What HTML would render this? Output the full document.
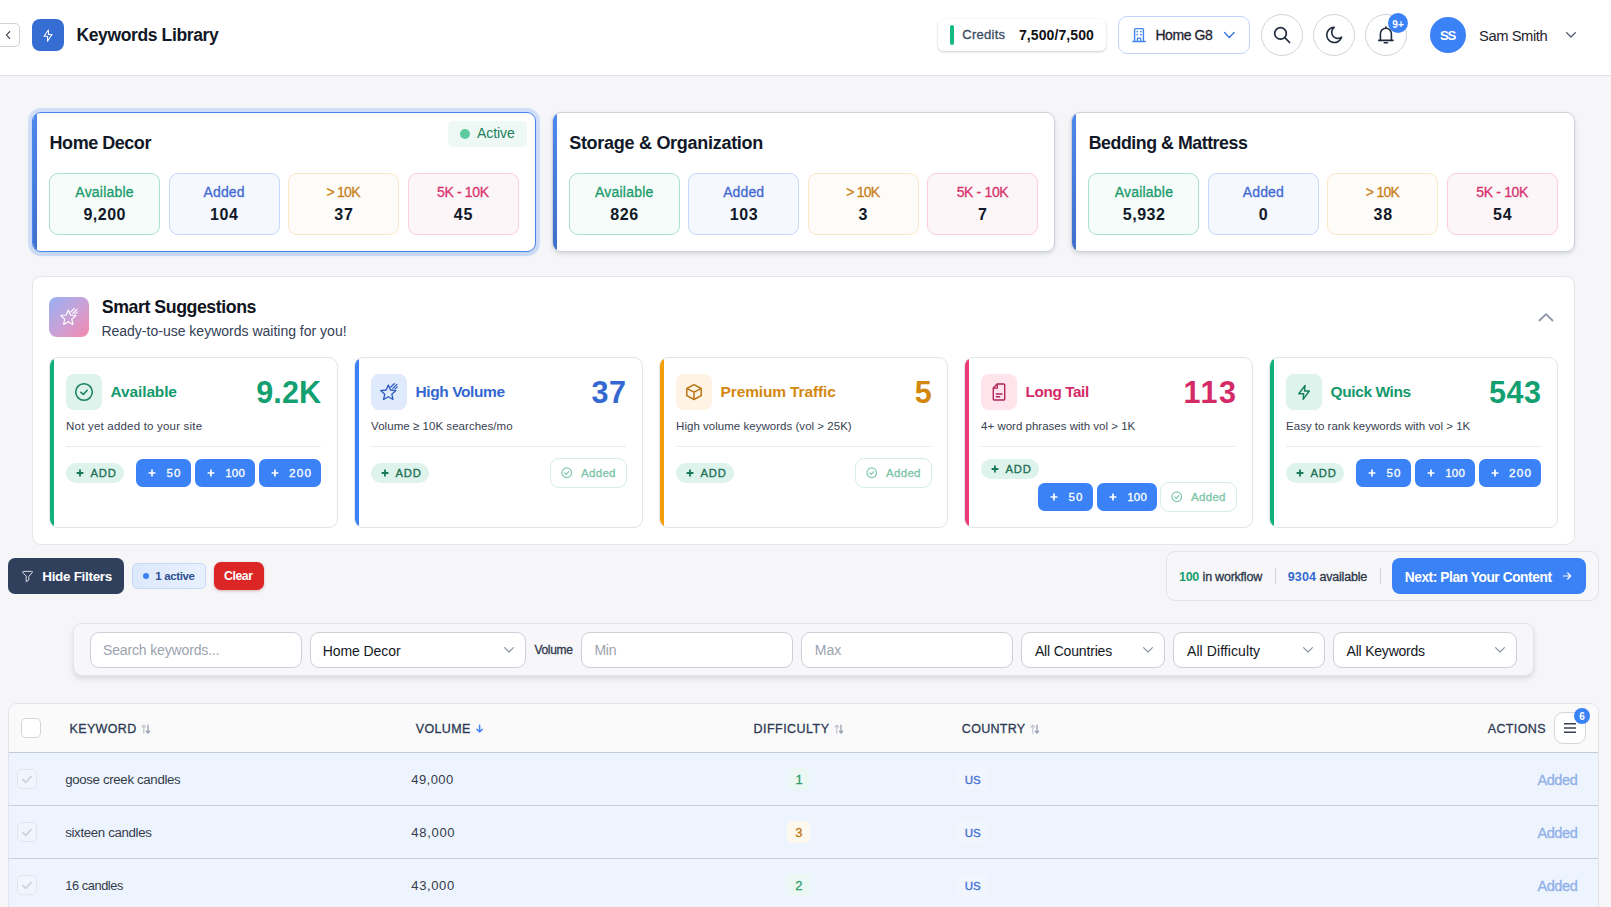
<!DOCTYPE html>
<html lang="en"><head><meta charset="utf-8"><title>Keywords Library</title>
<style>
html,body{margin:0;padding:0}
body{width:1611px;height:907px;overflow:hidden;position:relative;background:#f6f6f9;font-family:"Liberation Sans",sans-serif;}
#app{position:absolute;left:0;top:0;width:1611px;height:907px;overflow:hidden}
#app div,#app span,#app svg{position:absolute;box-sizing:border-box}
#app span{white-space:pre;}
</style></head><body><div id="app">
<div style="left:0px;top:0px;width:1611px;height:76px;background:#fff;border-bottom:1px solid #dfe1e7;"></div>
<div style="left:-6px;top:23px;width:25.5px;height:24px;background:#fff;border:1px solid #cdd1d8;border-radius:5px;"></div>
<svg style="left:3px;top:29px;" width="10" height="12" viewBox="0 0 10 12" fill="none" stroke-linecap="round" stroke-linejoin="round"><path d="M6.700 2.600 L3.400 6 L6.700 9.400" stroke="#1f2937" stroke-width="1.050"/></svg>
<div style="left:32px;top:19px;width:32px;height:32px;background:#356dd3;border-radius:8px;"></div>
<svg style="left:41px;top:27px;" width="14" height="16" viewBox="0 0 14 16" fill="none" stroke-linecap="round" stroke-linejoin="round"><path d="M7.400 3 L3 9.200 H6.600 L6.500 14.200 L11 7.500 H7.500 Z" stroke="#fff" stroke-width="1.100"/></svg>
<span style="left:76.40px;top:25px;font-size:17.5px;line-height:20px;color:#111827;letter-spacing:-0.368px;font-weight:700;">Keywords Library</span>
<div style="left:938px;top:19px;width:168px;height:32px;background:#fff;border-radius:6px;box-shadow:0 1px 3px rgba(16,24,40,.14),0 1px 2px rgba(16,24,40,.08);"></div>
<div style="left:950px;top:25px;width:4px;height:19.5px;background:#12b981;border-radius:2px;"></div>
<span style="left:962.30px;top:27px;font-size:13px;line-height:15px;color:#3b4a63;letter-spacing:0.253px;-webkit-text-stroke:0.3px currentColor;">Credits</span>
<span style="left:1019.00px;top:27px;font-size:14px;line-height:16px;color:#0f1115;letter-spacing:0.084px;font-weight:700;">7,500/7,500</span>
<div style="left:1118px;top:16px;width:132px;height:38px;background:#fff;border:1px solid #bfd4f8;border-radius:9px;"></div>
<svg style="left:1132px;top:27px;" width="14" height="16" viewBox="0 0 14 16" fill="none" stroke-linecap="round" stroke-linejoin="round"><path d="M2.6 14.3 V2.6 a1 1 0 0 1 1-1 h6.8 a1 1 0 0 1 1 1 V14.3" stroke="#4585f0" stroke-width="1.450"/><path d="M0.8 14.4 H13.2" stroke="#4585f0" stroke-width="1.450"/><path d="M5.4 14.2 V11.2 h3.2 V14.2" stroke="#4585f0" stroke-width="1.300"/><path d="M5.2 4.6h.1M8.8 4.6h.1M5.2 7.6h.1M8.8 7.6h.1" stroke="#4585f0" stroke-width="1.700"/></svg>
<span style="left:1155.40px;top:27px;font-size:14px;line-height:16px;color:#1f2430;letter-spacing:-0.418px;-webkit-text-stroke:0.3px currentColor;">Home G8</span>
<svg style="left:1223px;top:30px;" width="14" height="10" viewBox="0 0 14 10" fill="none" stroke-linecap="round" stroke-linejoin="round"><path d="M1.500 2.500 L6.300 7.500 L11.100 2.500" stroke="#3b76e6" stroke-width="1.400"/></svg>
<div style="left:1261px;top:14px;width:42px;height:42px;background:#fff;border:1px solid #cfd4dc;border-radius:50%;"></div>
<div style="left:1313px;top:14px;width:42px;height:42px;background:#fff;border:1px solid #cfd4dc;border-radius:50%;"></div>
<div style="left:1365px;top:14px;width:42px;height:42px;background:#fff;border:1px solid #cfd4dc;border-radius:50%;"></div>
<svg style="left:1273px;top:26px;" width="18" height="18" viewBox="0 0 18 18" fill="none" stroke-linecap="round" stroke-linejoin="round"><circle cx="7.500" cy="7.400" r="5.800" stroke="#1f2a3d" stroke-width="1.700"/><path d="M11.800 11.700 L16.600 16.500" stroke="#1f2a3d" stroke-width="1.700"/></svg>
<svg style="left:1324px;top:25px;" width="20" height="20" viewBox="0 0 20 20" fill="none" stroke-linecap="round" stroke-linejoin="round"><path d="M10.200 2.300 A7.600 7.600 0 1 0 17.600 12.200 A6.100 6.100 0 0 1 10.200 2.300 Z" stroke="#1f2a3d" stroke-width="1.600"/></svg>
<svg style="left:1377px;top:25px;" width="18" height="20" viewBox="0 0 18 20" fill="none" stroke-linecap="round" stroke-linejoin="round"><path d="M3.400 15.400 V8.700 a5.500 5.500 0 0 1 11 0 V15.400" stroke="#1f2a3d" stroke-width="1.600"/><path d="M1.800 15.400 H16 M8.900 3 V2 M7.300 17.700 H10.500" stroke="#1f2a3d" stroke-width="1.600"/></svg>
<div style="left:1388px;top:13px;width:20px;height:20px;background:#3b82f6;border-radius:50%;"></div>
<span style="left:1392.25px;top:19px;font-size:10px;line-height:11px;color:#fff;letter-spacing:0.100px;font-weight:700;">9+</span>
<div style="left:1430px;top:17px;width:36px;height:36px;background:#3b82f6;border-radius:50%;"></div>
<span style="left:1439.95px;top:28px;font-size:13.25px;line-height:15px;color:#fff;letter-spacing:-1.375px;font-weight:700;">SS</span>
<span style="left:1479.00px;top:28px;font-size:14.75px;line-height:16px;color:#1f2430;letter-spacing:-0.441px;">Sam Smith</span>
<svg style="left:1565px;top:31px;" width="12" height="8" viewBox="0 0 12 8" fill="none" stroke-linecap="round" stroke-linejoin="round"><path d="M1.6 1.6 L6 6 L10.4 1.6" stroke="#4b5568" stroke-width="1.3"/></svg>
<div style="left:32px;top:112px;width:503.67px;height:140px;background:#fff;border:1.5px solid #4a86ee;border-radius:9px;box-shadow:0 0 0 4px rgba(59,130,246,.2),0 3px 5px rgba(30,41,59,.07);overflow:hidden;"><div style="left:0;top:0;width:4px;height:100%;background:linear-gradient(#4d88ec,#3e6fca)"></div></div>
<span style="left:49.60px;top:133px;font-size:18px;line-height:20px;color:#111827;letter-spacing:-0.471px;font-weight:700;">Home Decor</span>
<div style="left:49px;top:173px;width:111px;height:62px;background:#f6fcf9;border:1px solid #a9e3cc;border-radius:9px;"></div>
<span style="left:75.35px;top:184px;font-size:14px;line-height:16px;color:#1a9b6c;letter-spacing:0.218px;-webkit-text-stroke:0.3px currentColor;">Available</span>
<span style="left:83.48px;top:206px;font-size:16px;line-height:17px;color:#111827;letter-spacing:0.502px;font-weight:700;">9,200</span>
<div style="left:168.5px;top:173px;width:111px;height:62px;background:#f5f8fe;border:1px solid #c6d8f9;border-radius:9px;"></div>
<span style="left:203.50px;top:184px;font-size:14px;line-height:16px;color:#4169d1;letter-spacing:0.128px;-webkit-text-stroke:0.3px currentColor;">Added</span>
<span style="left:209.98px;top:206px;font-size:16px;line-height:17px;color:#111827;letter-spacing:0.671px;font-weight:700;">104</span>
<div style="left:288px;top:173px;width:111px;height:62px;background:#fefcf9;border:1px solid #fce6c8;border-radius:9px;"></div>
<span style="left:326.50px;top:184px;font-size:14px;line-height:16px;color:#c8811a;letter-spacing:-0.743px;-webkit-text-stroke:0.3px currentColor;">&gt; 10K</span>
<span style="left:334.16px;top:206px;font-size:16px;line-height:17px;color:#111827;letter-spacing:0.895px;font-weight:700;">37</span>
<div style="left:407.5px;top:173px;width:111px;height:62px;background:#fcf6f9;border:1px solid #fbcddd;border-radius:9px;"></div>
<span style="left:437.00px;top:184px;font-size:14px;line-height:16px;color:#d6336c;letter-spacing:-0.353px;-webkit-text-stroke:0.3px currentColor;">5K - 10K</span>
<span style="left:453.66px;top:206px;font-size:16px;line-height:17px;color:#111827;letter-spacing:0.895px;font-weight:700;">45</span>
<div style="left:551.67px;top:112px;width:503.67px;height:140px;background:#fff;border:1px solid #cdd1d9;border-radius:9px;box-shadow:0 2px 4px rgba(30,41,59,.15);overflow:hidden;"><div style="left:-1px;top:-1px;width:5px;height:142px;background:linear-gradient(#4d88ec,#3e6fca)"></div></div>
<span style="left:569.20px;top:133px;font-size:18px;line-height:20px;color:#111827;letter-spacing:-0.282px;font-weight:700;">Storage &amp; Organization</span>
<div style="left:568.67px;top:173px;width:111px;height:62px;background:#f6fcf9;border:1px solid #a9e3cc;border-radius:9px;"></div>
<span style="left:595.02px;top:184px;font-size:14px;line-height:16px;color:#1a9b6c;letter-spacing:0.217px;-webkit-text-stroke:0.3px currentColor;">Available</span>
<span style="left:610.15px;top:206px;font-size:16px;line-height:17px;color:#111827;letter-spacing:0.671px;font-weight:700;">826</span>
<div style="left:688.17px;top:173px;width:111px;height:62px;background:#f5f8fe;border:1px solid #c6d8f9;border-radius:9px;"></div>
<span style="left:723.17px;top:184px;font-size:14px;line-height:16px;color:#4169d1;letter-spacing:0.128px;-webkit-text-stroke:0.3px currentColor;">Added</span>
<span style="left:729.65px;top:206px;font-size:16px;line-height:17px;color:#111827;letter-spacing:0.671px;font-weight:700;">103</span>
<div style="left:807.67px;top:173px;width:111px;height:62px;background:#fefcf9;border:1px solid #fce6c8;border-radius:9px;"></div>
<span style="left:846.17px;top:184px;font-size:14px;line-height:16px;color:#c8811a;letter-spacing:-0.743px;-webkit-text-stroke:0.3px currentColor;">&gt; 10K</span>
<span style="left:858.50px;top:206px;font-size:16px;line-height:17px;color:#111827;letter-spacing:0.000px;font-weight:700;">3</span>
<div style="left:927.17px;top:173px;width:111px;height:62px;background:#fcf6f9;border:1px solid #fbcddd;border-radius:9px;"></div>
<span style="left:956.67px;top:184px;font-size:14px;line-height:16px;color:#d6336c;letter-spacing:-0.353px;-webkit-text-stroke:0.3px currentColor;">5K - 10K</span>
<span style="left:978.00px;top:206px;font-size:16px;line-height:17px;color:#111827;letter-spacing:0.000px;font-weight:700;">7</span>
<div style="left:1071.33px;top:112px;width:503.67px;height:140px;background:#fff;border:1px solid #cdd1d9;border-radius:9px;box-shadow:0 2px 4px rgba(30,41,59,.15);overflow:hidden;"><div style="left:-1px;top:-1px;width:5px;height:142px;background:linear-gradient(#4d88ec,#3e6fca)"></div></div>
<span style="left:1088.70px;top:133px;font-size:17.75px;line-height:20px;color:#111827;letter-spacing:-0.445px;font-weight:700;">Bedding &amp; Mattress</span>
<div style="left:1088.33px;top:173px;width:111px;height:62px;background:#f6fcf9;border:1px solid #a9e3cc;border-radius:9px;"></div>
<span style="left:1114.68px;top:184px;font-size:14px;line-height:16px;color:#1a9b6c;letter-spacing:0.218px;-webkit-text-stroke:0.3px currentColor;">Available</span>
<span style="left:1122.81px;top:206px;font-size:16px;line-height:17px;color:#111827;letter-spacing:0.502px;font-weight:700;">5,932</span>
<div style="left:1207.83px;top:173px;width:111px;height:62px;background:#f5f8fe;border:1px solid #c6d8f9;border-radius:9px;"></div>
<span style="left:1242.83px;top:184px;font-size:14px;line-height:16px;color:#4169d1;letter-spacing:0.128px;-webkit-text-stroke:0.3px currentColor;">Added</span>
<span style="left:1258.66px;top:206px;font-size:16px;line-height:17px;color:#111827;letter-spacing:0.000px;font-weight:700;">0</span>
<div style="left:1327.33px;top:173px;width:111px;height:62px;background:#fefcf9;border:1px solid #fce6c8;border-radius:9px;"></div>
<span style="left:1365.83px;top:184px;font-size:14px;line-height:16px;color:#c8811a;letter-spacing:-0.743px;-webkit-text-stroke:0.3px currentColor;">&gt; 10K</span>
<span style="left:1373.49px;top:206px;font-size:16px;line-height:17px;color:#111827;letter-spacing:0.895px;font-weight:700;">38</span>
<div style="left:1446.83px;top:173px;width:111px;height:62px;background:#fcf6f9;border:1px solid #fbcddd;border-radius:9px;"></div>
<span style="left:1476.33px;top:184px;font-size:14px;line-height:16px;color:#d6336c;letter-spacing:-0.353px;-webkit-text-stroke:0.3px currentColor;">5K - 10K</span>
<span style="left:1492.99px;top:206px;font-size:16px;line-height:17px;color:#111827;letter-spacing:0.895px;font-weight:700;">54</span>
<div style="left:448px;top:121px;width:79px;height:26px;background:#eef8f4;border-radius:5px;"></div>
<div style="left:460px;top:129px;width:10px;height:10px;background:#5ccba0;border-radius:50%;"></div>
<span style="left:477.00px;top:125px;font-size:14px;line-height:16px;color:#1b7f5c;letter-spacing:-0.064px;">Active</span>
<div style="left:32px;top:276px;width:1543px;height:269px;background:#fff;border:1px solid #e4e6eb;border-radius:9px;"></div>
<div style="left:49px;top:297px;width:40px;height:40px;background:linear-gradient(135deg,#98aff5 0%,#c8a2d8 50%,#f587ab 100%);border-radius:8px;"></div>
<svg style="left:60px;top:305.5px;" width="19" height="20" viewBox="0 0 19 20" fill="none" stroke-linecap="round" stroke-linejoin="round"><path d="M8.300 4 L10.470 9.010 L15.910 9.530 L11.820 13.140 L13 18.470 L8.300 15.700 L3.600 18.470 L4.780 13.140 L0.690 9.530 L6.130 9.010 Z" stroke="#fff" stroke-width="1.15"/><path d="M10.800 6 L14.260 2.670 M12.900 7.400 L16.940 3.370 M15.250 7.840 L17.240 5.850" stroke="#fff" stroke-width="1.15"/></svg>
<span style="left:101.80px;top:297px;font-size:17.75px;line-height:20px;color:#0f1420;letter-spacing:-0.447px;font-weight:700;">Smart Suggestions</span>
<span style="left:101.40px;top:323px;font-size:14px;line-height:16px;color:#334155;letter-spacing:0.002px;">Ready-to-use keywords waiting for you!</span>
<svg style="left:1538px;top:312px;" width="16" height="10" viewBox="0 0 16 10" fill="none" stroke-linecap="round" stroke-linejoin="round"><path d="M1.500 8.500 L8 2.100 L14.500 8.500" stroke="#8f98a6" stroke-width="1.800"/></svg>
<div style="left:49px;top:357px;width:289px;height:171px;background:#fff;border:1px solid #e1e4ea;border-radius:9px;overflow:hidden;"><div style="left:-1px;top:-1px;width:4.500px;height:172px;background:#12b07a"></div></div>
<div style="left:66px;top:374px;width:36px;height:36px;background:#ddf3eb;border-radius:8px;"></div>
<svg style="left:74px;top:382px;" width="20" height="20" viewBox="0 0 20 20" fill="none" stroke-linecap="round" stroke-linejoin="round"><circle cx="10" cy="10" r="8.3" stroke="#14805a" stroke-width="1.5"/><path d="M6.8 10.2 L9.3 12.5 L13.2 8.300" stroke="#14805a" stroke-width="1.5"/></svg>
<span style="left:110.60px;top:383px;font-size:15.5px;line-height:17px;color:#13996b;letter-spacing:-0.136px;font-weight:700;">Available</span>
<span style="left:256.20px;top:375px;font-size:30.5px;line-height:34px;color:#12a071;letter-spacing:0.128px;font-weight:700;">9.2K</span>
<span style="left:66.10px;top:420px;font-size:11.5px;line-height:12px;color:#374151;letter-spacing:0.198px;">Not yet added to your site</span>
<div style="left:66px;top:446px;width:255px;height:1px;background:#e9ebef;"></div>
<div style="left:354px;top:357px;width:289px;height:171px;background:#fff;border:1px solid #e1e4ea;border-radius:9px;overflow:hidden;"><div style="left:-1px;top:-1px;width:4.500px;height:172px;background:#3b82f6"></div></div>
<div style="left:371px;top:374px;width:36px;height:36px;background:#e0eafd;border-radius:8px;"></div>
<svg style="left:380.3px;top:380.6px;" width="19" height="20" viewBox="0 0 19 20" fill="none" stroke-linecap="round" stroke-linejoin="round"><path d="M8.300 4 L10.470 9.010 L15.910 9.530 L11.820 13.140 L13 18.470 L8.300 15.700 L3.600 18.470 L4.780 13.140 L0.690 9.530 L6.130 9.010 Z" stroke="#2b5bbf" stroke-width="1.3"/><path d="M10.800 6 L14.260 2.670 M12.900 7.400 L16.940 3.370 M15.250 7.840 L17.240 5.850" stroke="#2b5bbf" stroke-width="1.3"/></svg>
<span style="left:415.60px;top:383px;font-size:15.5px;line-height:17px;color:#3468d1;letter-spacing:-0.417px;font-weight:700;">High Volume</span>
<span style="left:591.40px;top:375px;font-size:30.5px;line-height:34px;color:#3468d1;letter-spacing:0.684px;font-weight:700;">37</span>
<span style="left:371.10px;top:420px;font-size:11.5px;line-height:12px;color:#374151;letter-spacing:0.041px;">Volume ≥ 10K searches/mo</span>
<div style="left:371px;top:446px;width:255px;height:1px;background:#e9ebef;"></div>
<div style="left:659px;top:357px;width:289px;height:171px;background:#fff;border:1px solid #e1e4ea;border-radius:9px;overflow:hidden;"><div style="left:-1px;top:-1px;width:4.500px;height:172px;background:#f59e0b"></div></div>
<div style="left:676px;top:374px;width:36px;height:36px;background:#fef3e4;border-radius:8px;"></div>
<svg style="left:684px;top:382px;" width="20" height="20" viewBox="0 0 20 20" fill="none" stroke-linecap="round" stroke-linejoin="round"><path d="M10 2.700 L17.200 6.500 V13.700 L10 17.500 L2.800 13.700 V6.500 Z" stroke="#b87514" stroke-width="1.500"/><path d="M3.100 6.700 L10 10.200 L16.900 6.700 M10 10.200 V17.200" stroke="#b87514" stroke-width="1.500"/></svg>
<span style="left:720.60px;top:383px;font-size:15.5px;line-height:17px;color:#d4870f;letter-spacing:-0.139px;font-weight:700;">Premium Traffic</span>
<span style="left:914.70px;top:375px;font-size:30.5px;line-height:34px;color:#d4870f;letter-spacing:0.000px;font-weight:700;">5</span>
<span style="left:676.10px;top:420px;font-size:11.5px;line-height:12px;color:#374151;letter-spacing:0.025px;">High volume keywords (vol &gt; 25K)</span>
<div style="left:676px;top:446px;width:255px;height:1px;background:#e9ebef;"></div>
<div style="left:964px;top:357px;width:289px;height:171px;background:#fff;border:1px solid #e1e4ea;border-radius:9px;overflow:hidden;"><div style="left:-1px;top:-1px;width:4.500px;height:172px;background:#ec3a78"></div></div>
<div style="left:981px;top:374px;width:36px;height:36px;background:#ffe4eb;border-radius:8px;"></div>
<svg style="left:991px;top:382px;" width="16" height="20" viewBox="0 0 16 20" fill="none" stroke-linecap="round" stroke-linejoin="round"><path d="M6.2 2 H12.600 a1.100 1.100 0 0 1 1.100 1.100 V16.900 a1.100 1.100 0 0 1 -1.100 1.100 H3.400 a1.100 1.100 0 0 1 -1.100 -1.100 V6 Z" stroke="#b0245a" stroke-width="1.400"/><path d="M6.400 2.300 V6.100 H2.500" stroke="#b0245a" stroke-width="1.300"/><path d="M5.300 12 H11 M5.300 14.700 H8.600" stroke="#b0245a" stroke-width="1.400"/></svg>
<span style="left:1025.60px;top:383px;font-size:15.25px;line-height:17px;color:#d42a67;letter-spacing:-0.380px;font-weight:700;">Long Tail</span>
<span style="left:1183.50px;top:375px;font-size:30.5px;line-height:34px;color:#d42a67;letter-spacing:1.652px;font-weight:700;">113</span>
<span style="left:981.10px;top:420px;font-size:11.5px;line-height:12px;color:#374151;letter-spacing:0.002px;">4+ word phrases with vol &gt; 1K</span>
<div style="left:981px;top:446px;width:255px;height:1px;background:#e9ebef;"></div>
<div style="left:1269px;top:357px;width:289px;height:171px;background:#fff;border:1px solid #e1e4ea;border-radius:9px;overflow:hidden;"><div style="left:-1px;top:-1px;width:4.500px;height:172px;background:#12b07a"></div></div>
<div style="left:1286px;top:374px;width:36px;height:36px;background:#ddf3eb;border-radius:8px;"></div>
<svg style="left:1296px;top:382.2px;" width="16" height="20" viewBox="0 0 16 20" fill="none" stroke-linecap="round" stroke-linejoin="round"><path d="M9.100 3.500 L2.800 11.700 H7.700 L7.100 17.400 L13.300 9 H8.500 Z" stroke="#14805a" stroke-width="1.400"/></svg>
<span style="left:1330.60px;top:383px;font-size:15.5px;line-height:17px;color:#13996b;letter-spacing:-0.408px;font-weight:700;">Quick Wins</span>
<span style="left:1489.10px;top:375px;font-size:30.5px;line-height:34px;color:#12a071;letter-spacing:0.513px;font-weight:700;">543</span>
<span style="left:1286.10px;top:420px;font-size:11.5px;line-height:12px;color:#374151;letter-spacing:-0.009px;">Easy to rank keywords with vol &gt; 1K</span>
<div style="left:1286px;top:446px;width:255px;height:1px;background:#e9ebef;"></div>
<div style="left:66px;top:463px;width:58px;height:20px;background:#ddf3eb;border-radius:10px;"></div>
<svg style="left:76px;top:469.1px;" width="8" height="8" viewBox="0 0 8 8" fill="none" stroke-linecap="round" stroke-linejoin="round"><path d="M4.0 0.600 V7.4 M0.600 4.0 H7.4" stroke="#17785a" stroke-width="1.8" stroke-linecap="butt"/></svg>
<span style="left:90.60px;top:467px;font-size:11.25px;line-height:12px;color:#1b6e52;letter-spacing:0.726px;-webkit-text-stroke:0.3px currentColor;">ADD</span>
<div style="left:136px;top:459px;width:55px;height:27.6px;background:#3b82f6;border-radius:6.500px;"></div>
<svg style="left:148.2px;top:468.9px;" width="8" height="8" viewBox="0 0 8 8" fill="none" stroke-linecap="round" stroke-linejoin="round"><path d="M4.0 0.600 V7.4 M0.600 4.0 H7.4" stroke="#fff" stroke-width="1.7" stroke-linecap="butt"/></svg>
<span style="left:166.60px;top:467px;font-size:11.5px;line-height:12px;color:#fff;letter-spacing:1.112px;-webkit-text-stroke:0.3px currentColor;">50</span>
<div style="left:195px;top:459px;width:60px;height:27.6px;background:#3b82f6;border-radius:6.500px;"></div>
<svg style="left:206.9px;top:468.9px;" width="8" height="8" viewBox="0 0 8 8" fill="none" stroke-linecap="round" stroke-linejoin="round"><path d="M4.0 0.600 V7.4 M0.600 4.0 H7.4" stroke="#fff" stroke-width="1.7" stroke-linecap="butt"/></svg>
<span style="left:225.30px;top:467px;font-size:11.5px;line-height:12px;color:#fff;letter-spacing:0.159px;-webkit-text-stroke:0.3px currentColor;">100</span>
<div style="left:259px;top:459px;width:62px;height:27.6px;background:#3b82f6;border-radius:6.500px;"></div>
<svg style="left:270.9px;top:468.9px;" width="8" height="8" viewBox="0 0 8 8" fill="none" stroke-linecap="round" stroke-linejoin="round"><path d="M4.0 0.600 V7.4 M0.600 4.0 H7.4" stroke="#fff" stroke-width="1.7" stroke-linecap="butt"/></svg>
<span style="left:289.10px;top:466px;font-size:11.75px;line-height:13px;color:#fff;letter-spacing:1.150px;-webkit-text-stroke:0.3px currentColor;">200</span>
<div style="left:1286px;top:463px;width:58px;height:20px;background:#ddf3eb;border-radius:10px;"></div>
<svg style="left:1296px;top:469.1px;" width="8" height="8" viewBox="0 0 8 8" fill="none" stroke-linecap="round" stroke-linejoin="round"><path d="M4.0 0.600 V7.4 M0.600 4.0 H7.4" stroke="#17785a" stroke-width="1.8" stroke-linecap="butt"/></svg>
<span style="left:1310.60px;top:467px;font-size:11.25px;line-height:12px;color:#1b6e52;letter-spacing:0.726px;-webkit-text-stroke:0.3px currentColor;">ADD</span>
<div style="left:1356px;top:459px;width:55px;height:27.6px;background:#3b82f6;border-radius:6.500px;"></div>
<svg style="left:1368.2px;top:468.9px;" width="8" height="8" viewBox="0 0 8 8" fill="none" stroke-linecap="round" stroke-linejoin="round"><path d="M4.0 0.600 V7.4 M0.600 4.0 H7.4" stroke="#fff" stroke-width="1.7" stroke-linecap="butt"/></svg>
<span style="left:1386.60px;top:467px;font-size:11.5px;line-height:12px;color:#fff;letter-spacing:1.112px;-webkit-text-stroke:0.3px currentColor;">50</span>
<div style="left:1415px;top:459px;width:60px;height:27.6px;background:#3b82f6;border-radius:6.500px;"></div>
<svg style="left:1426.9px;top:468.9px;" width="8" height="8" viewBox="0 0 8 8" fill="none" stroke-linecap="round" stroke-linejoin="round"><path d="M4.0 0.600 V7.4 M0.600 4.0 H7.4" stroke="#fff" stroke-width="1.7" stroke-linecap="butt"/></svg>
<span style="left:1445.30px;top:467px;font-size:11.5px;line-height:12px;color:#fff;letter-spacing:0.159px;-webkit-text-stroke:0.3px currentColor;">100</span>
<div style="left:1479px;top:459px;width:62px;height:27.6px;background:#3b82f6;border-radius:6.500px;"></div>
<svg style="left:1490.9px;top:468.9px;" width="8" height="8" viewBox="0 0 8 8" fill="none" stroke-linecap="round" stroke-linejoin="round"><path d="M4.0 0.600 V7.4 M0.600 4.0 H7.4" stroke="#fff" stroke-width="1.7" stroke-linecap="butt"/></svg>
<span style="left:1509.10px;top:466px;font-size:11.75px;line-height:13px;color:#fff;letter-spacing:1.151px;-webkit-text-stroke:0.3px currentColor;">200</span>
<div style="left:371px;top:463px;width:58px;height:20px;background:#ddf3eb;border-radius:10px;"></div>
<svg style="left:381px;top:469.1px;" width="8" height="8" viewBox="0 0 8 8" fill="none" stroke-linecap="round" stroke-linejoin="round"><path d="M4.0 0.600 V7.4 M0.600 4.0 H7.4" stroke="#17785a" stroke-width="1.8" stroke-linecap="butt"/></svg>
<span style="left:395.60px;top:467px;font-size:11.25px;line-height:12px;color:#1b6e52;letter-spacing:0.726px;-webkit-text-stroke:0.3px currentColor;">ADD</span>
<div style="left:550px;top:458px;width:77px;height:30px;background:#fff;border:1px solid #d5efe4;border-radius:9px;"></div>
<svg style="left:560.8px;top:467px;" width="11.5" height="11.5" viewBox="0 0 12 12" fill="none" stroke-linecap="round" stroke-linejoin="round"><circle cx="6" cy="6" r="5" stroke="#7fc8ab" stroke-width="1.250"/><path d="M3.900 6.100 L5.500 7.600 L8.100 4.800" stroke="#7fc8ab" stroke-width="1.250"/></svg>
<span style="left:581.00px;top:467px;font-size:11.5px;line-height:12px;color:#7cc5a8;letter-spacing:0.311px;-webkit-text-stroke:0.3px currentColor;">Added</span>
<div style="left:676px;top:463px;width:58px;height:20px;background:#ddf3eb;border-radius:10px;"></div>
<svg style="left:686px;top:469.1px;" width="8" height="8" viewBox="0 0 8 8" fill="none" stroke-linecap="round" stroke-linejoin="round"><path d="M4.0 0.600 V7.4 M0.600 4.0 H7.4" stroke="#17785a" stroke-width="1.8" stroke-linecap="butt"/></svg>
<span style="left:700.60px;top:467px;font-size:11.25px;line-height:12px;color:#1b6e52;letter-spacing:0.726px;-webkit-text-stroke:0.3px currentColor;">ADD</span>
<div style="left:855px;top:458px;width:77px;height:30px;background:#fff;border:1px solid #d5efe4;border-radius:9px;"></div>
<svg style="left:865.8px;top:467px;" width="11.5" height="11.5" viewBox="0 0 12 12" fill="none" stroke-linecap="round" stroke-linejoin="round"><circle cx="6" cy="6" r="5" stroke="#7fc8ab" stroke-width="1.250"/><path d="M3.900 6.100 L5.500 7.600 L8.100 4.800" stroke="#7fc8ab" stroke-width="1.250"/></svg>
<span style="left:886.00px;top:467px;font-size:11.5px;line-height:12px;color:#7cc5a8;letter-spacing:0.311px;-webkit-text-stroke:0.3px currentColor;">Added</span>
<div style="left:981px;top:459px;width:58px;height:20px;background:#ddf3eb;border-radius:10px;"></div>
<svg style="left:991px;top:465.1px;" width="8" height="8" viewBox="0 0 8 8" fill="none" stroke-linecap="round" stroke-linejoin="round"><path d="M4.0 0.600 V7.4 M0.600 4.0 H7.4" stroke="#17785a" stroke-width="1.8" stroke-linecap="butt"/></svg>
<span style="left:1005.60px;top:463px;font-size:11.25px;line-height:12px;color:#1b6e52;letter-spacing:0.726px;-webkit-text-stroke:0.3px currentColor;">ADD</span>
<div style="left:1038px;top:483px;width:55px;height:27.6px;background:#3b82f6;border-radius:6.500px;"></div>
<svg style="left:1050.2px;top:492.9px;" width="8" height="8" viewBox="0 0 8 8" fill="none" stroke-linecap="round" stroke-linejoin="round"><path d="M4.0 0.600 V7.4 M0.600 4.0 H7.4" stroke="#fff" stroke-width="1.7" stroke-linecap="butt"/></svg>
<span style="left:1068.60px;top:491px;font-size:11.5px;line-height:12px;color:#fff;letter-spacing:1.112px;-webkit-text-stroke:0.3px currentColor;">50</span>
<div style="left:1097px;top:483px;width:60px;height:27.6px;background:#3b82f6;border-radius:6.500px;"></div>
<svg style="left:1108.9px;top:492.9px;" width="8" height="8" viewBox="0 0 8 8" fill="none" stroke-linecap="round" stroke-linejoin="round"><path d="M4.0 0.600 V7.4 M0.600 4.0 H7.4" stroke="#fff" stroke-width="1.7" stroke-linecap="butt"/></svg>
<span style="left:1127.30px;top:491px;font-size:11.5px;line-height:12px;color:#fff;letter-spacing:0.159px;-webkit-text-stroke:0.3px currentColor;">100</span>
<div style="left:1160px;top:482px;width:77px;height:30px;background:#fff;border:1px solid #d5efe4;border-radius:9px;"></div>
<svg style="left:1170.8px;top:491px;" width="11.5" height="11.5" viewBox="0 0 12 12" fill="none" stroke-linecap="round" stroke-linejoin="round"><circle cx="6" cy="6" r="5" stroke="#7fc8ab" stroke-width="1.250"/><path d="M3.900 6.100 L5.500 7.600 L8.100 4.800" stroke="#7fc8ab" stroke-width="1.250"/></svg>
<span style="left:1191.00px;top:491px;font-size:11.5px;line-height:12px;color:#7cc5a8;letter-spacing:0.311px;-webkit-text-stroke:0.3px currentColor;">Added</span>
<div style="left:8px;top:558px;width:116px;height:36px;background:#2f3f5c;border-radius:7px;"></div>
<svg style="left:20.5px;top:569.5px;" width="13" height="13" viewBox="0 0 13 13" fill="none" stroke-linecap="round" stroke-linejoin="round"><path d="M1.900 2.600 Q0.900 1.400 2.500 1.400 H10.500 Q12.100 1.400 11.100 2.600 L7.800 6.500 V10 L5.200 11.800 V6.500 Z" stroke="#d9dee7" stroke-width="1"/></svg>
<span style="left:42.20px;top:569px;font-size:13.5px;line-height:15px;color:#fff;letter-spacing:-0.311px;font-weight:700;">Hide Filters</span>
<div style="left:132px;top:563px;width:74px;height:26px;background:linear-gradient(90deg,#dce8fc,#e9f1fe);border:1px solid #c7dafb;border-radius:5px;"></div>
<div style="left:143px;top:573px;width:6px;height:6px;background:#3b82f6;border-radius:50%;"></div>
<span style="left:155.30px;top:570px;font-size:11.5px;line-height:12px;color:#2f4f8f;letter-spacing:-0.371px;font-weight:700;">1 active</span>
<div style="left:214px;top:562px;width:50px;height:28px;background:#dc2626;border-radius:7px;box-shadow:0 1px 3px rgba(120,20,20,.3);"></div>
<span style="left:224.00px;top:569px;font-size:12.25px;line-height:14px;color:#fff;letter-spacing:-0.409px;font-weight:700;">Clear</span>
<div style="left:1166px;top:551px;width:433px;height:50px;background:#f7f7fa;border:1px solid #e2e4ea;border-radius:9px;"></div>
<span style="left:1179.00px;top:570px;font-size:12.5px;line-height:14px;color:#16a06e;letter-spacing:-0.325px;font-weight:700;">100</span>
<span style="left:1202.60px;top:570px;font-size:12.5px;line-height:14px;color:#2a3547;letter-spacing:-0.226px;-webkit-text-stroke:0.3px currentColor;">in workflow</span>
<div style="left:1275px;top:568px;width:1px;height:16px;background:#d1d5db;"></div>
<span style="left:1287.70px;top:570px;font-size:12.5px;line-height:14px;color:#3468d1;letter-spacing:0.162px;font-weight:700;">9304</span>
<span style="left:1319.40px;top:570px;font-size:12.5px;line-height:14px;color:#2a3547;letter-spacing:-0.192px;-webkit-text-stroke:0.3px currentColor;">available</span>
<div style="left:1379.5px;top:568px;width:1px;height:16px;background:#d1d5db;"></div>
<div style="left:1392px;top:558px;width:194px;height:36px;background:#3b82f6;border-radius:8px;"></div>
<span style="left:1404.70px;top:570px;font-size:13.75px;line-height:15px;color:#fff;letter-spacing:-0.435px;font-weight:700;">Next: Plan Your Content</span>
<svg style="left:1562px;top:571px;" width="11" height="10" viewBox="0 0 11 10" fill="none" stroke-linecap="round" stroke-linejoin="round"><path d="M1.500 5 H8.700 M5.700 2 L8.700 5 L5.700 8" stroke="#fff" stroke-width="1.200"/></svg>
<div style="left:73px;top:623px;width:1461px;height:53px;background:#f7f7fa;border:1px solid #e2e4ea;border-radius:9px;box-shadow:0 3px 5px rgba(30,41,59,.13);"></div>
<div style="left:90px;top:632px;width:212px;height:36px;background:#fff;border:1px solid #cbd0d8;border-radius:9px;"></div>
<span style="left:103.00px;top:642px;font-size:14px;line-height:16px;color:#9ca3af;letter-spacing:-0.144px;">Search keywords...</span>
<div style="left:310px;top:632px;width:216px;height:36px;background:#fff;border:1px solid #cbd0d8;border-radius:9px;"></div>
<span style="left:322.80px;top:643px;font-size:14px;line-height:16px;color:#14171d;letter-spacing:-0.087px;">Home Decor</span>
<svg style="left:503px;top:645.5px;" width="12" height="8" viewBox="0 0 12 8" fill="none" stroke-linecap="round" stroke-linejoin="round"><path d="M1.600 1.600 L6 6 L10.400 1.600" stroke="#8b93a1" stroke-width="1.200"/></svg>
<span style="left:534.40px;top:643px;font-size:12px;line-height:14px;color:#2f3a4c;letter-spacing:-0.284px;-webkit-text-stroke:0.3px currentColor;">Volume</span>
<div style="left:581px;top:632px;width:212px;height:36px;background:#fff;border:1px solid #cbd0d8;border-radius:9px;"></div>
<span style="left:594.40px;top:642px;font-size:14px;line-height:16px;color:#9ca3af;letter-spacing:-0.227px;">Min</span>
<div style="left:801px;top:632px;width:212px;height:36px;background:#fff;border:1px solid #cbd0d8;border-radius:9px;"></div>
<span style="left:814.70px;top:642px;font-size:14px;line-height:16px;color:#9ca3af;letter-spacing:0.027px;">Max</span>
<div style="left:1021px;top:632px;width:144px;height:36px;background:#fff;border:1px solid #cbd0d8;border-radius:9px;"></div>
<span style="left:1034.90px;top:643px;font-size:14px;line-height:16px;color:#14171d;letter-spacing:-0.172px;">All Countries</span>
<svg style="left:1142px;top:645.5px;" width="12" height="8" viewBox="0 0 12 8" fill="none" stroke-linecap="round" stroke-linejoin="round"><path d="M1.600 1.600 L6 6 L10.400 1.600" stroke="#8b93a1" stroke-width="1.200"/></svg>
<div style="left:1173px;top:632px;width:152px;height:36px;background:#fff;border:1px solid #cbd0d8;border-radius:9px;"></div>
<span style="left:1187.00px;top:643px;font-size:14px;line-height:16px;color:#14171d;letter-spacing:0.078px;">All Difficulty</span>
<svg style="left:1302px;top:645.5px;" width="12" height="8" viewBox="0 0 12 8" fill="none" stroke-linecap="round" stroke-linejoin="round"><path d="M1.600 1.600 L6 6 L10.400 1.600" stroke="#8b93a1" stroke-width="1.200"/></svg>
<div style="left:1333px;top:632px;width:184px;height:36px;background:#fff;border:1px solid #cbd0d8;border-radius:9px;"></div>
<span style="left:1346.60px;top:643px;font-size:14px;line-height:16px;color:#14171d;letter-spacing:-0.220px;">All Keywords</span>
<svg style="left:1494px;top:645.5px;" width="12" height="8" viewBox="0 0 12 8" fill="none" stroke-linecap="round" stroke-linejoin="round"><path d="M1.600 1.600 L6 6 L10.400 1.600" stroke="#8b93a1" stroke-width="1.200"/></svg>
<div style="left:8px;top:703px;width:1591px;height:217px;background:#eef4fe;border:1px solid #e1e4ea;border-radius:9px 9px 0 0;overflow:hidden;"><div style="left:0;top:0;width:100%;height:48px;background:#fafafa"></div><div style="left:0;top:48px;width:100%;height:1.300px;background:#c3cada"></div><div style="left:0;top:101px;width:100%;height:1.300px;background:#c8cedb"></div><div style="left:0;top:154px;width:100%;height:1.300px;background:#c8cedb"></div></div>
<div style="left:21px;top:718px;width:20px;height:20px;background:#fff;border:1px solid #d0d5dd;border-radius:5px;"></div>
<span style="left:69.60px;top:722px;font-size:12.5px;line-height:14px;color:#2d3a55;letter-spacing:0.335px;-webkit-text-stroke:0.3px currentColor;">KEYWORD</span>
<svg style="left:141.3px;top:723.8px;" width="10" height="10" viewBox="0 0 10 10" fill="none" stroke-linecap="round" stroke-linejoin="round"><path d="M2.800 9.200 V1.300 M1.100 3 L2.800 1.200 L4.500 3" stroke="#c1c6d0" stroke-width="1.200"/><path d="M7 1 V8.900 M5.300 7.200 L7 9 L8.700 7.200" stroke="#929cae" stroke-width="1.200"/></svg>
<span style="left:415.70px;top:722px;font-size:12.5px;line-height:14px;color:#2d3a55;letter-spacing:0.363px;-webkit-text-stroke:0.3px currentColor;">VOLUME</span>
<svg style="left:475px;top:724px;" width="9" height="10" viewBox="0 0 9 10" fill="none" stroke-linecap="round" stroke-linejoin="round"><path d="M4.600 1.300 V7.700 M1.900 5.200 L4.600 7.900 L7.300 5.200" stroke="#4a86f5" stroke-width="1.500"/></svg>
<span style="left:753.60px;top:722px;font-size:12.5px;line-height:14px;color:#2d3a55;letter-spacing:0.456px;-webkit-text-stroke:0.3px currentColor;">DIFFICULTY</span>
<svg style="left:834.3px;top:723.8px;" width="10" height="10" viewBox="0 0 10 10" fill="none" stroke-linecap="round" stroke-linejoin="round"><path d="M2.800 9.200 V1.300 M1.100 3 L2.800 1.200 L4.500 3" stroke="#c1c6d0" stroke-width="1.200"/><path d="M7 1 V8.900 M5.300 7.200 L7 9 L8.700 7.200" stroke="#929cae" stroke-width="1.200"/></svg>
<span style="left:961.80px;top:722px;font-size:12.5px;line-height:14px;color:#2d3a55;letter-spacing:0.304px;-webkit-text-stroke:0.3px currentColor;">COUNTRY</span>
<svg style="left:1030.3px;top:723.8px;" width="10" height="10" viewBox="0 0 10 10" fill="none" stroke-linecap="round" stroke-linejoin="round"><path d="M2.800 9.200 V1.300 M1.100 3 L2.800 1.200 L4.500 3" stroke="#c1c6d0" stroke-width="1.200"/><path d="M7 1 V8.900 M5.300 7.200 L7 9 L8.700 7.200" stroke="#929cae" stroke-width="1.200"/></svg>
<span style="left:1487.80px;top:722px;font-size:12.5px;line-height:14px;color:#2d3a55;letter-spacing:0.356px;-webkit-text-stroke:0.3px currentColor;">ACTIONS</span>
<div style="left:1554px;top:712px;width:32px;height:32px;background:#fff;border:1px solid #d3d7de;border-radius:9px;"></div>
<svg style="left:1563px;top:722px;" width="14" height="12" viewBox="0 0 14 12" fill="none" stroke-linecap="round" stroke-linejoin="round"><path d="M1 1.700 H13 M1 6 H13 M1 10.300 H13" stroke="#374151" stroke-width="1.600" stroke-linecap="butt"/></svg>
<div style="left:1574px;top:708px;width:16px;height:16px;background:#3b82f6;border-radius:50%;"></div>
<span style="left:1579.20px;top:711px;font-size:10px;line-height:11px;color:#fff;letter-spacing:0.000px;font-weight:700;">6</span>
<div style="left:17px;top:769px;width:20px;height:20px;background:#f1f6fe;border:1px solid #dfe5ee;border-radius:5px;"></div>
<svg style="left:21px;top:773.5px;" width="12" height="11" viewBox="0 0 12 11" fill="none" stroke-linecap="round" stroke-linejoin="round"><path d="M2 5.800 L4.800 8.400 L10 2.600" stroke="#d0d5dd" stroke-width="1.900"/></svg>
<span style="left:65.20px;top:772px;font-size:13.25px;line-height:15px;color:#333b4a;letter-spacing:-0.335px;">goose creek candles</span>
<span style="left:411.30px;top:772px;font-size:13px;line-height:15px;color:#333b4a;letter-spacing:0.427px;">49,000</span>
<div style="left:788.5px;top:768px;width:20.5px;height:22px;background:#ebf7f2;border-radius:5px;"></div>
<span style="left:795.50px;top:772px;font-size:13px;line-height:15px;color:#2e9e6e;letter-spacing:0.000px;-webkit-text-stroke:0.3px currentColor;">1</span>
<div style="left:957px;top:768px;width:31px;height:22px;background:#f1f5fe;border-radius:5px;"></div>
<span style="left:964.71px;top:774px;font-size:11.5px;line-height:12px;color:#3f6fd1;letter-spacing:0.002px;-webkit-text-stroke:0.3px currentColor;">US</span>
<span style="left:1537.40px;top:772px;font-size:14.5px;line-height:16px;color:#8fb0e8;letter-spacing:-0.384px;-webkit-text-stroke:0.3px currentColor;">Added</span>
<div style="left:17px;top:822px;width:20px;height:20px;background:#f1f6fe;border:1px solid #dfe5ee;border-radius:5px;"></div>
<svg style="left:21px;top:826.5px;" width="12" height="11" viewBox="0 0 12 11" fill="none" stroke-linecap="round" stroke-linejoin="round"><path d="M2 5.800 L4.800 8.400 L10 2.600" stroke="#d0d5dd" stroke-width="1.900"/></svg>
<span style="left:65.20px;top:825px;font-size:13.25px;line-height:15px;color:#333b4a;letter-spacing:-0.331px;">sixteen candles</span>
<span style="left:411.30px;top:825px;font-size:13px;line-height:15px;color:#333b4a;letter-spacing:0.707px;">48,000</span>
<div style="left:786.8px;top:821px;width:23.5px;height:22px;background:#fef9ee;border-radius:5px;"></div>
<span style="left:795.25px;top:825px;font-size:13px;line-height:15px;color:#c07a1c;letter-spacing:0.000px;-webkit-text-stroke:0.3px currentColor;">3</span>
<div style="left:957px;top:821px;width:31px;height:22px;background:#f1f5fe;border-radius:5px;"></div>
<span style="left:964.71px;top:827px;font-size:11.5px;line-height:12px;color:#3f6fd1;letter-spacing:0.002px;-webkit-text-stroke:0.3px currentColor;">US</span>
<span style="left:1537.40px;top:825px;font-size:14.5px;line-height:16px;color:#8fb0e8;letter-spacing:-0.384px;-webkit-text-stroke:0.3px currentColor;">Added</span>
<div style="left:17px;top:875px;width:20px;height:20px;background:#f1f6fe;border:1px solid #dfe5ee;border-radius:5px;"></div>
<svg style="left:21px;top:879.5px;" width="12" height="11" viewBox="0 0 12 11" fill="none" stroke-linecap="round" stroke-linejoin="round"><path d="M2 5.800 L4.800 8.400 L10 2.600" stroke="#d0d5dd" stroke-width="1.900"/></svg>
<span style="left:65.20px;top:878px;font-size:12.75px;line-height:15px;color:#333b4a;letter-spacing:-0.386px;">16 candles</span>
<span style="left:411.30px;top:878px;font-size:13px;line-height:15px;color:#333b4a;letter-spacing:0.627px;">43,000</span>
<div style="left:786.8px;top:874px;width:23.5px;height:22px;background:#ebf7f2;border-radius:5px;"></div>
<span style="left:795.25px;top:878px;font-size:13px;line-height:15px;color:#2e9e6e;letter-spacing:0.000px;-webkit-text-stroke:0.3px currentColor;">2</span>
<div style="left:957px;top:874px;width:31px;height:22px;background:#f1f5fe;border-radius:5px;"></div>
<span style="left:964.71px;top:880px;font-size:11.5px;line-height:12px;color:#3f6fd1;letter-spacing:0.002px;-webkit-text-stroke:0.3px currentColor;">US</span>
<span style="left:1537.40px;top:878px;font-size:14.5px;line-height:16px;color:#8fb0e8;letter-spacing:-0.384px;-webkit-text-stroke:0.3px currentColor;">Added</span>
</div></body></html>
